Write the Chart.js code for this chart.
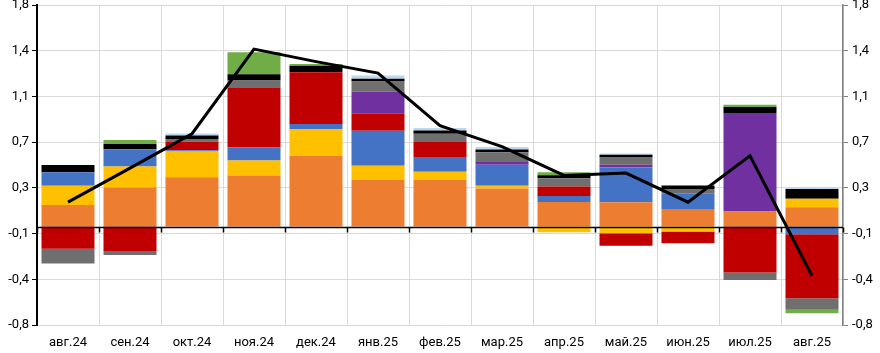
<!DOCTYPE html>
<html>
<head>
<meta charset="utf-8">
<script src="https://cdn.jsdelivr.net/npm/chart.js@4"></script>
<style>
html,body{margin:0;padding:0;background:#fff;}
#wrap{width:880px;height:353px;position:relative;}
</style>
</head>
<body>
<div id="wrap"><canvas id="c"></canvas></div>
<script>
const categories = ['авг.24','сен.24','окт.24','ноя.24','дек.24','янв.25','фев.25','мар.25','апр.25','май.25','июн.25','июл.25','авг.25'];

const seriesOrange    = [0.176, 0.317, 0.400, 0.415, 0.575, 0.380, 0.380, 0.309, 0.200, 0.198, 0.136, 0.122, 0.157];
const seriesYellow    = [0.155, 0.170, 0.210, 0.122, 0.217, 0.114, 0.065, 0.022, -0.046, -0.054, -0.041, 0, 0.068];
const seriesBlue      = [0.110, 0.140, 0.010, 0.108, 0.041, 0.285, 0.119, 0.171, 0.049, 0.282, 0.130, 0, -0.062];
const seriesRed       = [-0.180, -0.198, 0.068, 0.480, 0.420, 0.138, 0.122, 0, 0.076, -0.103, -0.095, -0.374, -0.520];
const seriesPurple    = [0, 0, 0, 0, 0, 0.181, 0, 0.022, 0, 0.022, 0, 0.800, 0];
const seriesGray      = [-0.120, -0.033, 0.024, 0.062, 0, 0.081, 0.068, 0.079, 0.068, 0.062, 0.038, -0.060, -0.095];
const seriesBlack     = [0.060, 0.043, 0.027, 0.051, 0.054, 0.022, 0.027, 0.022, 0.024, 0.019, 0.030, 0.049, 0.079];
const seriesGreen     = [0, 0.033, 0, 0.179, 0.014, 0, 0, 0, 0.024, 0, 0, 0.019, -0.027];
const seriesLightBlue = [0, 0, 0.016, 0, 0, 0.027, 0.019, 0.022, 0, 0.010, 0, 0, 0.014];

const seriesTotal = [0.198, 0.475, 0.754, 1.442, 1.340, 1.247, 0.819, 0.650, 0.415, 0.434, 0.198, 0.575, -0.400];

const yMin = -0.8;
const yMax = 1.8;
const yTickLabels = ['-0,8','-0,4','-0,1','0,3','0,7','1,1','1,4','1,8'];

const FONT = 'Roboto';

function fixedTicks(scale){
  const n = yTickLabels.length;
  const t = [];
  for(let i=0;i<n;i++) t.push({value: yMin + (yMax-yMin)*i/(n-1)});
  scale.ticks = t;
}

const zeroAxis = {
  id:'zeroAxis',
  afterDatasetsDraw(chart){
    const ctx = chart.ctx, xs = chart.scales.x, ys = chart.scales.y;
    const y0 = Math.round(ys.getPixelForValue(0)) + 0.5;
    const area = chart.chartArea;
    ctx.save();
    ctx.strokeStyle = '#000';
    ctx.lineWidth = 1.5;
    ctx.beginPath();
    ctx.moveTo(area.left, y0);
    ctx.lineTo(area.right, y0);
    const n = categories.length;
    const w = (xs.getPixelForValue(1) - xs.getPixelForValue(0));
    for(let i=0;i<=n;i++){
      const x = Math.round(xs.getPixelForValue(0) - w/2 + i*w) + 0.5;
      ctx.moveTo(x, y0);
      ctx.lineTo(x, y0 + 5);
    }
    ctx.stroke();
    ctx.restore();
  }
};

function bar(label, data, color){
  return {type:'bar', label, data, backgroundColor: color, borderWidth:0, stack:'bars', order:1,
          categoryPercentage:0.855, barPercentage:1.0};
}

new Chart(document.getElementById('c'), {
  data: {
    labels: categories,
    datasets: [
      {type:'line', label:'Итого', data: seriesTotal, borderColor:'#000', borderWidth:3, pointRadius:0,
       tension:0, fill:false, stack:'line', order:0},
      bar('Ряд 1', seriesOrange, '#ED7D31'),
      bar('Ряд 2', seriesYellow, '#FFC000'),
      bar('Ряд 3', seriesBlue, '#4472C4'),
      bar('Ряд 4', seriesRed, '#C00000'),
      bar('Ряд 5', seriesPurple, '#7030A0'),
      bar('Ряд 6', seriesGray, '#6F6F6F'),
      bar('Ряд 7', seriesBlack, '#000000'),
      bar('Ряд 8', seriesGreen, '#70AD47'),
      bar('Ряд 9', seriesLightBlue, '#BDD7EE')
    ]
  },
  options: {
    responsive:true,
    maintainAspectRatio:false,
    animation:false,
    layout:{padding:{top:5,left:0,right:0,bottom:0}},
    plugins:{legend:{display:false}, tooltip:{enabled:false}},
    scales:{
      x:{
        stacked:true,
        offset:true,
        grid:{offset:true, color:'#D9D9D9', lineWidth:1, drawTicks:false},
        border:{display:false},
        ticks:{padding:10, color:'#000', font:{family:FONT, size:13}, maxRotation:0, autoSkip:false},
        afterFit(s){ s.height = 28; }
      },
      y:{
        stacked:true,
        position:'left',
        min:yMin, max:yMax,
        afterBuildTicks: fixedTicks,
        grid:{color:'#D9D9D9', lineWidth:1, tickLength:5, tickColor:'#000'},
        border:{color:'#000', width:2},
        ticks:{padding:3, color:'#000', font:{family:FONT, size:13},
               callback:(v,i)=>yTickLabels[i]},
        afterFit(s){ s.width = 37; s.paddingTop = 0; s.paddingBottom = 0; }
      },
      y2:{
        position:'right',
        min:yMin, max:yMax,
        afterBuildTicks: fixedTicks,
        grid:{drawOnChartArea:false, tickLength:5, tickColor:'#808080'},
        border:{color:'#808080', width:1.5},
        ticks:{padding:4, color:'#000', font:{family:FONT, size:13},
               callback:(v,i)=>yTickLabels[i]},
        afterFit(s){ s.width = 37; s.paddingTop = 0; s.paddingBottom = 0; }
      }
    }
  },
  plugins:[zeroAxis]
});
</script>
</body>
</html>
